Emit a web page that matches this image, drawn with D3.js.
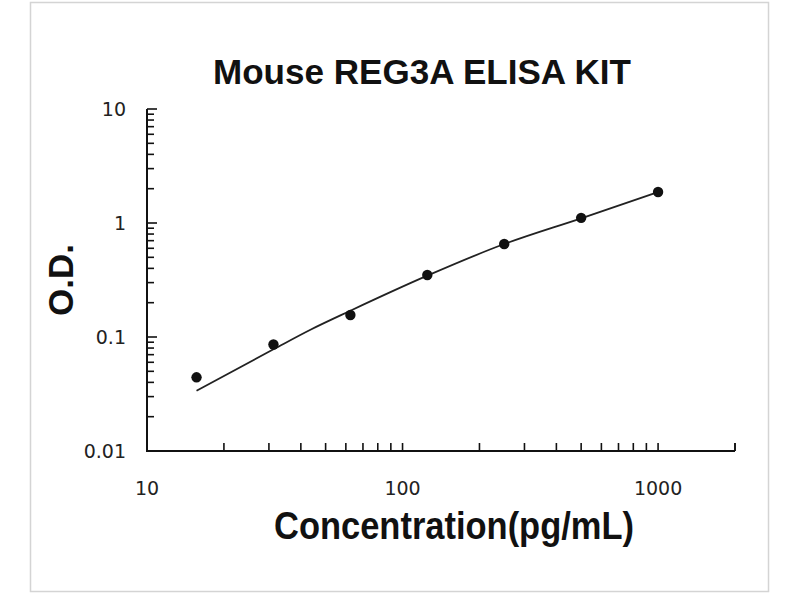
<!DOCTYPE html>
<html lang="en">
<head>
    <title>Mouse REG3A ELISA KIT</title>
    <script src="https://d3js.org/d3.v7.min.js"></script>
    <style>
        body { margin: 0; background: #fff; }
        text { font-family: "Liberation Sans", Arial, sans-serif; fill: #111; }
        .tick { font-family: "DejaVu Sans", sans-serif; fill: #222; }
    </style>
</head>
<body>
  <svg width=800 height=600></svg>
    <script>
        // standard points
        let conc = [15.625, 31.25, 62.5, 125, 250, 500, 1000];
        let od = [0.0443, 0.086, 0.156, 0.35, 0.655, 1.11, 1.87];

        // fitted curve
        let curveConc = [15.625, 31.25, 44, 62.5, 125, 250, 500, 1000];
        let curveOd = [0.0338, 0.078, 0.117, 0.170, 0.345, 0.654, 1.10, 1.87];

        let xTickLabels = [10, 100, 1000];
        let yTickLabels = [10, 1, 0.1, 0.01];

        let svg = d3.select("svg");

        // light frame round the picture
        svg.append("rect")
           .attr("x", 30.5).attr("y", 2.5)
           .attr("width", 738).attr("height", 589)
           .attr("fill", "none")
           .attr("stroke", "#d4d4d4")
           .attr("stroke-width", 1.5);

        let x = d3.scaleLog().domain([10, 2000]).range([147, 735]);
        let y = d3.scaleLog().domain([0.01, 10]).range([451, 109]);

        // minor ticks for each decade
        let xMinor = [];
        [10, 100, 1000].forEach(d => d3.range(2, 10).forEach(k => { if (d * k <= 2000) xMinor.push(d * k); }));
        let yMinor = [];
        [0.01, 0.1, 1].forEach(d => d3.range(2, 10).forEach(k => yMinor.push(d * k)));

        let g = svg.append("g");

        // axes lines
        g.append("line")
           .attr("x1", x(10) - 1).attr("x2", x(2000))
           .attr("y1", y(0.01)).attr("y2", y(0.01))
           .attr("stroke", "#111").attr("stroke-width", 2);
        g.append("line")
           .attr("x1", x(10)).attr("x2", x(10))
           .attr("y1", y(0.01)).attr("y2", y(10))
           .attr("stroke", "#111").attr("stroke-width", 2);

        // x ticks point up into the plot
        g.selectAll(".xt")
           .data(xMinor.concat([100, 1000, 2000]))
           .enter()
           .append("line")
           .attr("x1", d => x(d)).attr("x2", d => x(d))
           .attr("y1", y(0.01)).attr("y2", y(0.01) - 8)
           .attr("stroke", "#111").attr("stroke-width", 1.6);

        // y ticks point right into the plot
        g.selectAll(".ytm")
           .data(yMinor)
           .enter()
           .append("line")
           .attr("x1", x(10)).attr("x2", x(10) + 7)
           .attr("y1", d => y(d)).attr("y2", d => y(d))
           .attr("stroke", "#111").attr("stroke-width", 1.6);
        g.selectAll(".ytM")
           .data([10, 1, 0.1])
           .enter()
           .append("line")
           .attr("x1", x(10)).attr("x2", x(10) + 10)
           .attr("y1", d => y(d)).attr("y2", d => y(d))
           .attr("stroke", "#111").attr("stroke-width", 1.6);

        // tick labels
        g.selectAll(".xl")
           .data(xTickLabels)
           .enter()
           .append("text")
           .attr("class", "tick")
           .attr("x", d => x(d))
           .attr("y", 495)
           .attr("text-anchor", "middle")
           .attr("font-size", 19)
           .text(d => d);

        g.selectAll(".yl")
           .data(yTickLabels)
           .enter()
           .append("text")
           .attr("class", "tick")
           .attr("x", 126)
           .attr("y", d => y(d) + 7)
           .attr("text-anchor", "end")
           .attr("font-size", 19)
           .text(d => d);

        // titles
        svg.append("text")
           .attr("x", 422).attr("y", 84)
           .attr("text-anchor", "middle")
           .attr("font-size", 35)
           .attr("font-weight", "bold")
           .attr("textLength", 418)
           .attr("lengthAdjust", "spacingAndGlyphs")
           .text("Mouse REG3A ELISA KIT");

        svg.append("text")
           .attr("x", 454).attr("y", 539)
           .attr("text-anchor", "middle")
           .attr("font-size", 38)
           .attr("font-weight", "bold")
           .attr("textLength", 360)
           .attr("lengthAdjust", "spacingAndGlyphs")
           .text("Concentration(pg/mL)");

        svg.append("text")
           .attr("transform", "translate(73,280) rotate(-90)")
           .attr("text-anchor", "middle")
           .attr("font-size", 35)
           .attr("font-weight", "bold")
           .text("O.D.");

        // fitted curve
        let line = d3.line()
           .x(d => x(d))
           .y((d, i) => y(curveOd[i]))
           .curve(d3.curveMonotoneX);

        svg.append("path")
           .attr("d", line(curveConc))
           .attr("fill", "none")
           .attr("stroke", "#222")
           .attr("stroke-width", 1.8);

        // standard points
        svg.selectAll("circle")
           .data(conc)
           .enter()
           .append("circle")
           .attr("cx", d => x(d))
           .attr("cy", (d, i) => y(od[i]))
           .attr("r", 5.2)
           .attr("fill", "#111");
    </script>
</body>
</html>
